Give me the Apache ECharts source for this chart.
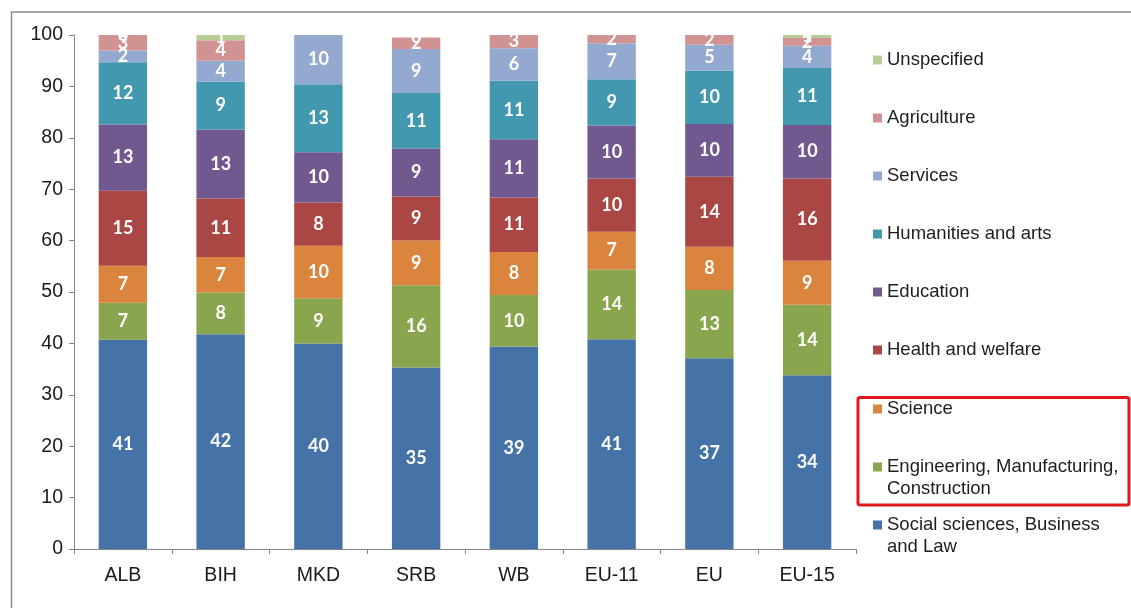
<!DOCTYPE html>
<html>
<head>
<meta charset="utf-8">
<script src="https://cdn.jsdelivr.net/npm/echarts@6/dist/echarts.min.js"></script>
<style>
html,body{margin:0;padding:0;background:#fff;}
#chart{width:1131px;height:608px;}
</style>
</head>
<body>
<div id="chart"></div>
<script>
const categories = ['ALB', 'BIH', 'MKD', 'SRB', 'WB', 'EU-11', 'EU', 'EU-15'];
const yTicks = [0, 10, 20, 30, 40, 50, 60, 70, 80, 90, 100];

const socialSciences = [40.7, 41.8, 40.0, 35.3, 39.4, 40.8, 37.1, 33.8];
const engineering    = [7.2, 8.1, 8.8, 16.0, 10.0, 13.6, 13.3, 13.7];
const science        = [7.2, 6.9, 10.2, 8.7, 8.4, 7.3, 8.4, 8.6];
const health         = [14.6, 11.4, 8.4, 8.6, 10.6, 10.4, 13.6, 16.0];
const education      = [12.9, 13.4, 9.8, 9.3, 11.3, 10.3, 10.3, 10.4];
const humanities     = [12.1, 9.3, 13.2, 10.8, 11.4, 9.0, 10.4, 11.1];
const services       = [2.3, 4.1, 9.6, 8.6, 6.3, 7.0, 5.0, 4.3];
const agriculture    = [3.0, 4.0, null, 2.2, 2.6, 1.6, 1.9, 1.5];
const unspecified    = [0, 1.0, null, 0, null, null, null, 0.6];

const seriesNames = ['Social sciences, Business and Law', 'Engineering, Manufacturing, Construction', 'Science',
  'Health and welfare', 'Education', 'Humanities and arts', 'Services', 'Agriculture', 'Unspecified'];
const legendLabels = ['Social sciences, Business\nand Law', 'Engineering, Manufacturing,\nConstruction', 'Science',
  'Health and welfare', 'Education', 'Humanities and arts', 'Services', 'Agriculture', 'Unspecified'];
const seriesData = [socialSciences, engineering, science, health, education, humanities, services, agriculture, unspecified];
const colors = ['#4572A7', '#89A54E', '#DB843D', '#AA4643', '#71588F', '#4198AF', '#93A9CF', '#D19392', '#B9CD96'];

// icon centre y for each legend entry (same order as seriesNames)
const legendCenters = [525, 467, 409, 350, 292, 234, 176, 118, 60];

const chart = echarts.init(document.getElementById('chart'), null, {renderer: 'canvas'});

const legends = seriesNames.map((name, i) => {
  const multi = legendLabels[i].indexOf('\n') >= 0;
  return {
    orient: 'vertical',
    left: 873,
    top: multi ? legendCenters[i] - 33 : legendCenters[i] - 11,
    padding: 0,
    itemWidth: 9,
    itemHeight: 9,
    itemGap: 0,
    icon: 'rect',
    data: [name],
    // a leading empty line keeps the first text line level with the icon
    formatter: () => (multi ? '\u00a0\n' : '') + legendLabels[i],
    textStyle: {
      fontFamily: 'Liberation Sans, Arial, sans-serif',
      fontSize: 18.5,
      color: '#1e1e1e',
      lineHeight: 22
    }
  };
});

const option = {
  animation: false,
  backgroundColor: '#ffffff',
  color: colors,
  grid: {left: 74, right: 275, top: 35, bottom: 59, containLabel: false},
  legend: legends,
  xAxis: {
    type: 'category',
    data: categories,
    axisLine: {show: true, lineStyle: {color: '#868686', width: 1}},
    axisTick: {show: true, length: 5, lineStyle: {color: '#868686'}},
    axisLabel: {
      margin: 17,
      fontFamily: 'Liberation Sans, Arial, sans-serif',
      fontSize: 19.5,
      color: '#1a1a1a'
    }
  },
  yAxis: {
    type: 'value',
    min: yTicks[0],
    max: yTicks[yTicks.length - 1],
    interval: yTicks[1] - yTicks[0],
    splitLine: {show: false},
    axisLine: {show: true, lineStyle: {color: '#868686', width: 1}},
    axisTick: {show: true, length: 5, lineStyle: {color: '#868686'}},
    axisLabel: {
      margin: 11,
      fontFamily: 'Liberation Sans, Arial, sans-serif',
      fontSize: 19.5,
      color: '#1a1a1a'
    }
  },
  series: seriesNames.map((name, i) => ({
    name: name,
    type: 'bar',
    stack: 'total',
    barWidth: '49.5%',
    data: seriesData[i],
    itemStyle: {color: colors[i]},
    label: {
      show: true,
      position: 'inside',
      color: '#ffffff',
      fontFamily: 'Lato, Open Sans, sans-serif',
      fontWeight: 'bold',
      fontSize: 18,
      formatter: p => (p.value === null || p.value === undefined) ? '' : String(Math.round(p.value))
    }
  })),
  graphic: [
    {
      type: 'rect',
      silent: true,
      z: -10,
      shape: {x: 11.5, y: 12, width: 1200, height: 700},
      style: {fill: 'none', stroke: '#8a8a8a', lineWidth: 1.5}
    },
    {
      type: 'rect',
      silent: true,
      shape: {x: 858, y: 397.5, width: 271, height: 107.5, r: 2},
      style: {fill: 'none', stroke: '#e0181c', lineWidth: 3}
    }
  ]
};

chart.setOption(option);
</script>
</body>
</html>
